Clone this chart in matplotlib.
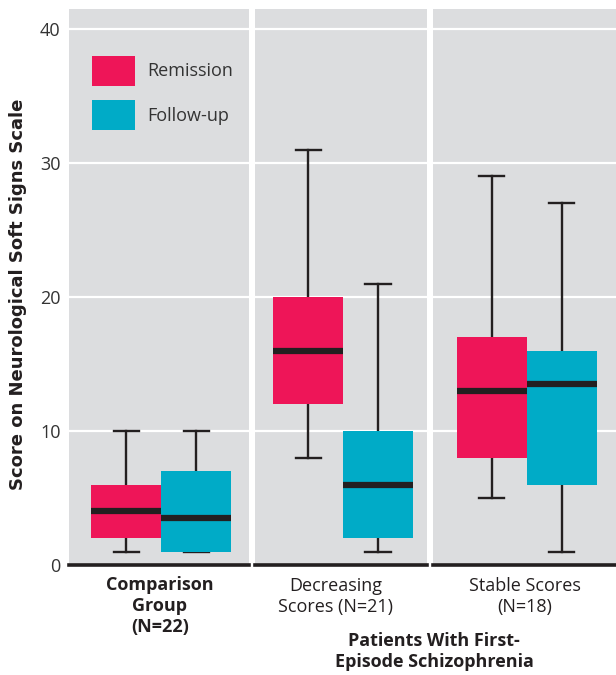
import matplotlib
matplotlib.use("Agg")
from matplotlib import pyplot as plt
from matplotlib.patches import Patch

plt.rcParams["font.family"] = ["Open Sans", "DejaVu Sans"]

# box stats per panel: (remission, follow-up), values as (whislo, q1, med, q3, whishi)
groups = ["Comparison", "Decreasing", "Stable"]
remission = [
    (1, 2, 4, 6, 10),
    (8, 12, 16, 20, 31),
    (5, 8, 13, 17, 29),
]
follow_up = [
    (1, 1, 3.5, 7, 10),
    (1, 2, 6, 10, 21),
    (1, 6, 13.5, 16, 27),
]
series_names = ["Remission", "Follow-up"]
series_colors = ["#EE1558", "#00ABC7"]
yticks = [0, 10, 20, 30, 40]

BG = "#DCDDDF"
INK = "#231F20"


def make_stats(vals):
    lo, q1, med, q3, hi = vals
    return {"whislo": lo, "q1": q1, "med": med, "q3": q3, "whishi": hi}


fig = plt.figure(figsize=(6.16, 6.75), dpi=100)
lefts = [69, 255, 433]
rights = [249, 427, 616]
bottom = 1 - 565 / 675
top = 1 - 9 / 675

axes = []
for i, (l, r) in enumerate(zip(lefts, rights)):
    ax = fig.add_axes([l / 616, bottom, (r - l) / 616, top - bottom])
    ax.set_facecolor(BG)

    stats = [make_stats(remission[i]), make_stats(follow_up[i])]
    bp = ax.bxp(
        stats,
        positions=[-0.5, 0.5],
        widths=1.0,
        capwidths=0.36,
        showfliers=False,
        patch_artist=True,
        boxprops=dict(linewidth=0, edgecolor="none"),
        medianprops=dict(color=INK, linewidth=4.5, solid_capstyle="butt"),
        whiskerprops=dict(color=INK, linewidth=1.7),
        capprops=dict(color=INK, linewidth=1.7),
    )
    for patch, c in zip(bp["boxes"], series_colors):
        patch.set_facecolor(c)
    for w in bp["whiskers"] + bp["caps"]:
        w.set_zorder(1.5)

    span = (r - l) / 70.0
    ax.set_xlim(-span / 2 - 0.03, span / 2 - 0.03)
    ax.set_ylim(0, 41.5)
    ax.set_xticks([])
    ax.set_yticks(yticks)
    ax.yaxis.grid(True, color="white", linewidth=1.6)
    ax.set_axisbelow(True)
    for side in ["top", "right", "left"]:
        ax.spines[side].set_visible(False)
    ax.spines["bottom"].set_color(INK)
    ax.spines["bottom"].set_linewidth(2.6)
    ax.tick_params(axis="y", length=0, labelsize=13, colors="#333333", pad=6)
    if i > 0:
        ax.set_yticklabels([])
    axes.append(ax)

fig.text(18 / 616, 1 - 294 / 675, "Score on Neurological Soft Signs Scale",
         rotation=90, ha="center", va="center", fontsize=13,
         fontweight="bold", color=INK, family="DejaVu Sans")

handles = [Patch(facecolor=c, edgecolor="none") for c in series_colors]
axes[0].legend(handles, series_names, loc="upper left",
               bbox_to_anchor=(23 / 180, 1 - 47 / 556), frameon=False,
               borderaxespad=0, borderpad=0,
               fontsize=13, handlelength=2.4, handleheight=2.15,
               labelspacing=0.82, handletextpad=0.65,
               labelcolor="#333333")

fig.text(160 / 616, 1 - 576 / 675, "Comparison\nGroup\n(N=22)", ha="center",
         va="top", fontsize=13, fontweight="bold", color=INK,
         linespacing=1.22)
fig.text(336 / 616, 1 - 577 / 675, "Decreasing\nScores (N=21)", ha="center",
         va="top", fontsize=13, color=INK, linespacing=1.22)
fig.text(525 / 616, 1 - 577 / 675, "Stable Scores\n(N=18)", ha="center",
         va="top", fontsize=13, color=INK, linespacing=1.22)
fig.text(434 / 616, 1 - 632 / 675, "Patients With First-\nEpisode Schizophrenia",
         ha="center", va="top", fontsize=13, fontweight="bold",
         color=INK, linespacing=1.18)

fig.savefig("out.png", dpi=100)
